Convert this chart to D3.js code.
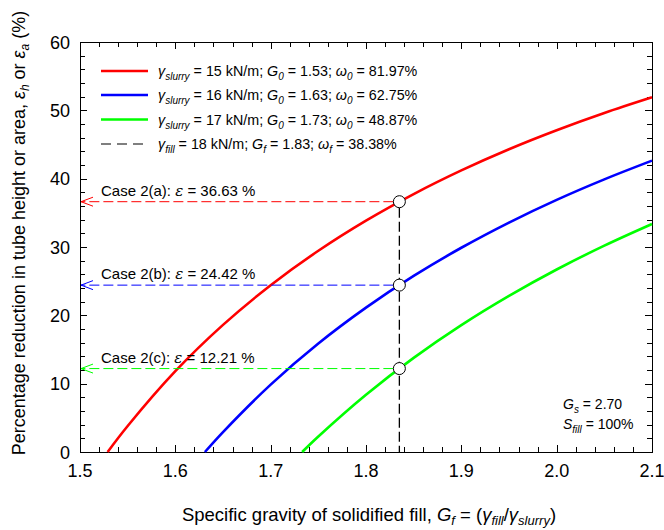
<!DOCTYPE html>
<html>
<head>
<meta charset="utf-8">
<script src="https://cdn.jsdelivr.net/npm/d3@7"></script>
<style>
  html, body { margin: 0; padding: 0; background: #fff; }
  svg { display: block; font-family: Arial, "Liberation Sans", sans-serif; }
</style>
</head>
<body>
<svg id="chart" width="664" height="530"></svg>
<script>
// Reduction in tube height/area vs. specific gravity of the solidified fill
const xTicks = [1.5, 1.6, 1.7, 1.8, 1.9, 2.0, 2.1];
const yTicks = [0, 10, 20, 30, 40, 50, 60];

const redX   = [1.529, 1.55, 1.60, 1.65, 1.70, 1.75, 1.80, 1.85, 1.90, 1.95, 2.00, 2.05, 2.10];
const redY   = [0, 3.80, 11.82, 18.60, 24.41, 29.45, 33.86, 37.75, 41.21, 44.31, 47.09, 49.61, 51.90];
const blueX  = [1.631, 1.65, 1.70, 1.75, 1.80, 1.85, 1.90, 1.95, 2.00, 2.05, 2.10];
const blueY  = [0, 2.92, 9.86, 15.87, 21.12, 25.76, 29.89, 33.58, 36.90, 39.90, 42.64];
const greenX = [1.733, 1.75, 1.80, 1.85, 1.90, 1.95, 2.00, 2.05, 2.10];
const greenY = [0, 2.28, 8.39, 13.78, 18.57, 22.85, 26.71, 30.20, 33.37];

const seriesColors = ["#ff0000", "#0000ff", "#00ff00"];
const slurryWeights = ["15", "16", "17"];
const slurryG0 = ["1.53", "1.63", "1.73"];
const slurryW0 = ["81.97%", "62.75%", "48.87%"];

const fillGf = 1.835;
const caseNames = ["Case 2(a)", "Case 2(b)", "Case 2(c)"];
const caseEps = [36.63, 24.42, 12.21];

const svg = d3.select("#chart");
const plotL = 80, plotR = 652, plotT = 42, plotB = 452;

const x = d3.scaleLinear().domain([1.5, 2.1]).range([plotL, plotR]);
const y = d3.scaleLinear().domain([0, 60]).range([plotB, plotT]);

// Frame
svg.append("rect")
  .attr("x", plotL + 0.5).attr("y", plotT + 0.5)
  .attr("width", plotR - plotL).attr("height", plotB - plotT)
  .attr("fill", "none").attr("stroke", "#000").attr("stroke-width", 1);

// Inward ticks on all four sides
const xMinor = d3.range(1.5, 2.1001, 0.02);
const yMinor = d3.range(0, 60.001, 2);
const isMajorX = v => xTicks.some(t => Math.abs(t - v) < 1e-6);
const isMajorY = v => yTicks.some(t => Math.abs(t - v) < 1e-6);
const ticksG = svg.append("g").attr("stroke", "#000").attr("stroke-width", 1);
xMinor.forEach(v => {
  const len = isMajorX(v) ? 7 : 5;
  const px = Math.round(x(v)) + 0.5;
  ticksG.append("line").attr("x1", px).attr("x2", px).attr("y1", plotB).attr("y2", plotB - len);
  ticksG.append("line").attr("x1", px).attr("x2", px).attr("y1", plotT).attr("y2", plotT + len);
});
yMinor.forEach(v => {
  const len = isMajorY(v) ? 7 : 5;
  const py = Math.round(y(v)) + 0.5;
  ticksG.append("line").attr("x1", plotL).attr("x2", plotL + len).attr("y1", py).attr("y2", py);
  ticksG.append("line").attr("x1", plotR).attr("x2", plotR - len).attr("y1", py).attr("y2", py);
});

// Tick labels
svg.append("g").selectAll("text").data(xTicks).join("text")
  .attr("x", d => x(d)).attr("y", plotB + 25)
  .attr("text-anchor", "middle").attr("font-size", 18)
  .text(d => d3.format(".1f")(d));
svg.append("g").selectAll("text").data(yTicks).join("text")
  .attr("x", plotL - 10).attr("y", d => y(d) + 6.5)
  .attr("text-anchor", "end").attr("font-size", 18)
  .text(d => d);

// Axis titles
const xt = svg.append("text")
  .attr("x", 369).attr("y", 521)
  .attr("text-anchor", "middle").attr("font-size", 18.5);
xt.append("tspan").text("Specific gravity of solidified fill, ");
xt.append("tspan").attr("font-style", "italic").text("G");
xt.append("tspan").attr("font-style", "italic").attr("font-size", 13).attr("dy", 4).text("f");
xt.append("tspan").attr("dy", -4).text(" = (");
xt.append("tspan").attr("font-style", "italic").text("γ");
xt.append("tspan").attr("font-style", "italic").attr("font-size", 13).attr("dy", 4).text("fill");
xt.append("tspan").attr("dy", -4).text("/");
xt.append("tspan").attr("font-style", "italic").text("γ");
xt.append("tspan").attr("font-style", "italic").attr("font-size", 13).attr("dy", 4).text("slurry");
xt.append("tspan").attr("dy", -4).text(")");

const yt = svg.append("text")
  .attr("transform", "translate(25,233) rotate(-90)")
  .attr("text-anchor", "middle").attr("font-size", 18);
yt.append("tspan").text("Percentage reduction in tube height or area, ");
yt.append("tspan").attr("font-style", "italic").text("ε");
yt.append("tspan").attr("font-style", "italic").attr("font-size", 12).attr("dy", 4).text("h");
yt.append("tspan").attr("dy", -4).text(" or ");
yt.append("tspan").attr("font-style", "italic").text("ε");
yt.append("tspan").attr("font-style", "italic").attr("font-size", 12).attr("dy", 4).text("a");
yt.append("tspan").attr("dy", -4).text(" (%)");

// Curves
const seriesData = [
  d3.zip(redX, redY),
  d3.zip(blueX, blueY),
  d3.zip(greenX, greenY)
];
const line = d3.line().x(d => x(d[0])).y(d => y(d[1])).curve(d3.curveCatmullRom.alpha(0.5));
svg.append("g").selectAll("path").data(seriesData).join("path")
  .attr("d", line)
  .attr("fill", "none")
  .attr("stroke", (d, i) => seriesColors[i])
  .attr("stroke-width", 2.6);

// Case guide lines (horizontal, with open arrowheads at the y axis)
const r = 6;
caseEps.forEach((e, i) => {
  const py = y(e);
  const g = svg.append("g").attr("stroke", seriesColors[i]).attr("fill", "none").attr("stroke-width", 1);
  g.append("line")
    .attr("x1", x(fillGf) - r).attr("x2", x(1.5) + 1)
    .attr("y1", py).attr("y2", py)
    .attr("stroke-dasharray", "10,4");
  g.append("path")
    .attr("d", `M${x(1.5) + 13},${py - 4.5} L${x(1.5) + 1},${py} L${x(1.5) + 13},${py + 4.5}`);

  const t = svg.append("text").attr("x", 101).attr("y", py - 6).attr("font-size", 15);
  t.append("tspan").text(caseNames[i] + ": ");
  t.append("tspan").attr("font-style", "italic").attr("font-family", "'DejaVu Serif', serif").text("ε");
  t.append("tspan").text("  = " + d3.format(".2f")(e) + " %");
});

// Vertical fill line
svg.append("line")
  .attr("x1", x(fillGf)).attr("x2", x(fillGf))
  .attr("y1", y(caseEps[0]) + r).attr("y2", plotB)
  .attr("stroke", "#000").attr("stroke-width", 1.3)
  .attr("stroke-dasharray", "10,4");

// Intersection markers
svg.append("g").selectAll("circle").data(caseEps).join("circle")
  .attr("cx", x(fillGf)).attr("cy", d => y(d)).attr("r", r)
  .attr("fill", "#fff").attr("stroke", "#000").attr("stroke-width", 1);

// Legend
const legRows = [71, 95, 119.5, 144];
const legend = svg.append("g");
slurryWeights.forEach((w, i) => {
  const ly = legRows[i];
  legend.append("line").attr("x1", 101).attr("x2", 148).attr("y1", ly).attr("y2", ly)
    .attr("stroke", seriesColors[i]).attr("stroke-width", 2.6);
  const t = legend.append("text").attr("x", 158).attr("y", ly + 5).attr("font-size", 14.3);
  t.append("tspan").attr("font-style", "italic").text("γ");
  t.append("tspan").attr("font-style", "italic").attr("font-size", 10).attr("dy", 4).text("slurry");
  t.append("tspan").attr("dy", -4).text(" = " + w + " kN/m; ");
  t.append("tspan").attr("font-style", "italic").text("G");
  t.append("tspan").attr("font-style", "italic").attr("font-size", 10).attr("dy", 4).text("0");
  t.append("tspan").attr("dy", -4).text(" = " + slurryG0[i] + "; ");
  t.append("tspan").attr("font-style", "italic").text("ω");
  t.append("tspan").attr("font-style", "italic").attr("font-size", 10).attr("dy", 4).text("0");
  t.append("tspan").attr("dy", -4).text(" = " + slurryW0[i]);
});
{
  const ly = legRows[3];
  legend.append("line").attr("x1", 101).attr("x2", 148).attr("y1", ly).attr("y2", ly)
    .attr("stroke", "#000").attr("stroke-width", 1.2).attr("stroke-dasharray", "10,6");
  const t = legend.append("text").attr("x", 158).attr("y", ly + 5).attr("font-size", 14.3);
  t.append("tspan").attr("font-style", "italic").text("γ");
  t.append("tspan").attr("font-style", "italic").attr("font-size", 10).attr("dy", 4).text("fill");
  t.append("tspan").attr("dy", -4).text(" = 18 kN/m; ");
  t.append("tspan").attr("font-style", "italic").text("G");
  t.append("tspan").attr("font-style", "italic").attr("font-size", 10).attr("dy", 4).text("f");
  t.append("tspan").attr("dy", -4).text(" = 1.83; ");
  t.append("tspan").attr("font-style", "italic").text("ω");
  t.append("tspan").attr("font-style", "italic").attr("font-size", 10).attr("dy", 4).text("f");
  t.append("tspan").attr("dy", -4).text(" = 38.38%");
}

// Material constants
const gs = svg.append("text").attr("x", 563).attr("y", 409).attr("font-size", 14);
gs.append("tspan").attr("font-style", "italic").text("G");
gs.append("tspan").attr("font-style", "italic").attr("font-size", 10).attr("dy", 4).text("s");
gs.append("tspan").attr("dy", -4).text(" = 2.70");
const sf = svg.append("text").attr("x", 563).attr("y", 429).attr("font-size", 14);
sf.append("tspan").attr("font-style", "italic").text("S");
sf.append("tspan").attr("font-style", "italic").attr("font-size", 10).attr("dy", 4).text("fill");
sf.append("tspan").attr("dy", -4).text(" = 100%");
</script>
</body>
</html>
